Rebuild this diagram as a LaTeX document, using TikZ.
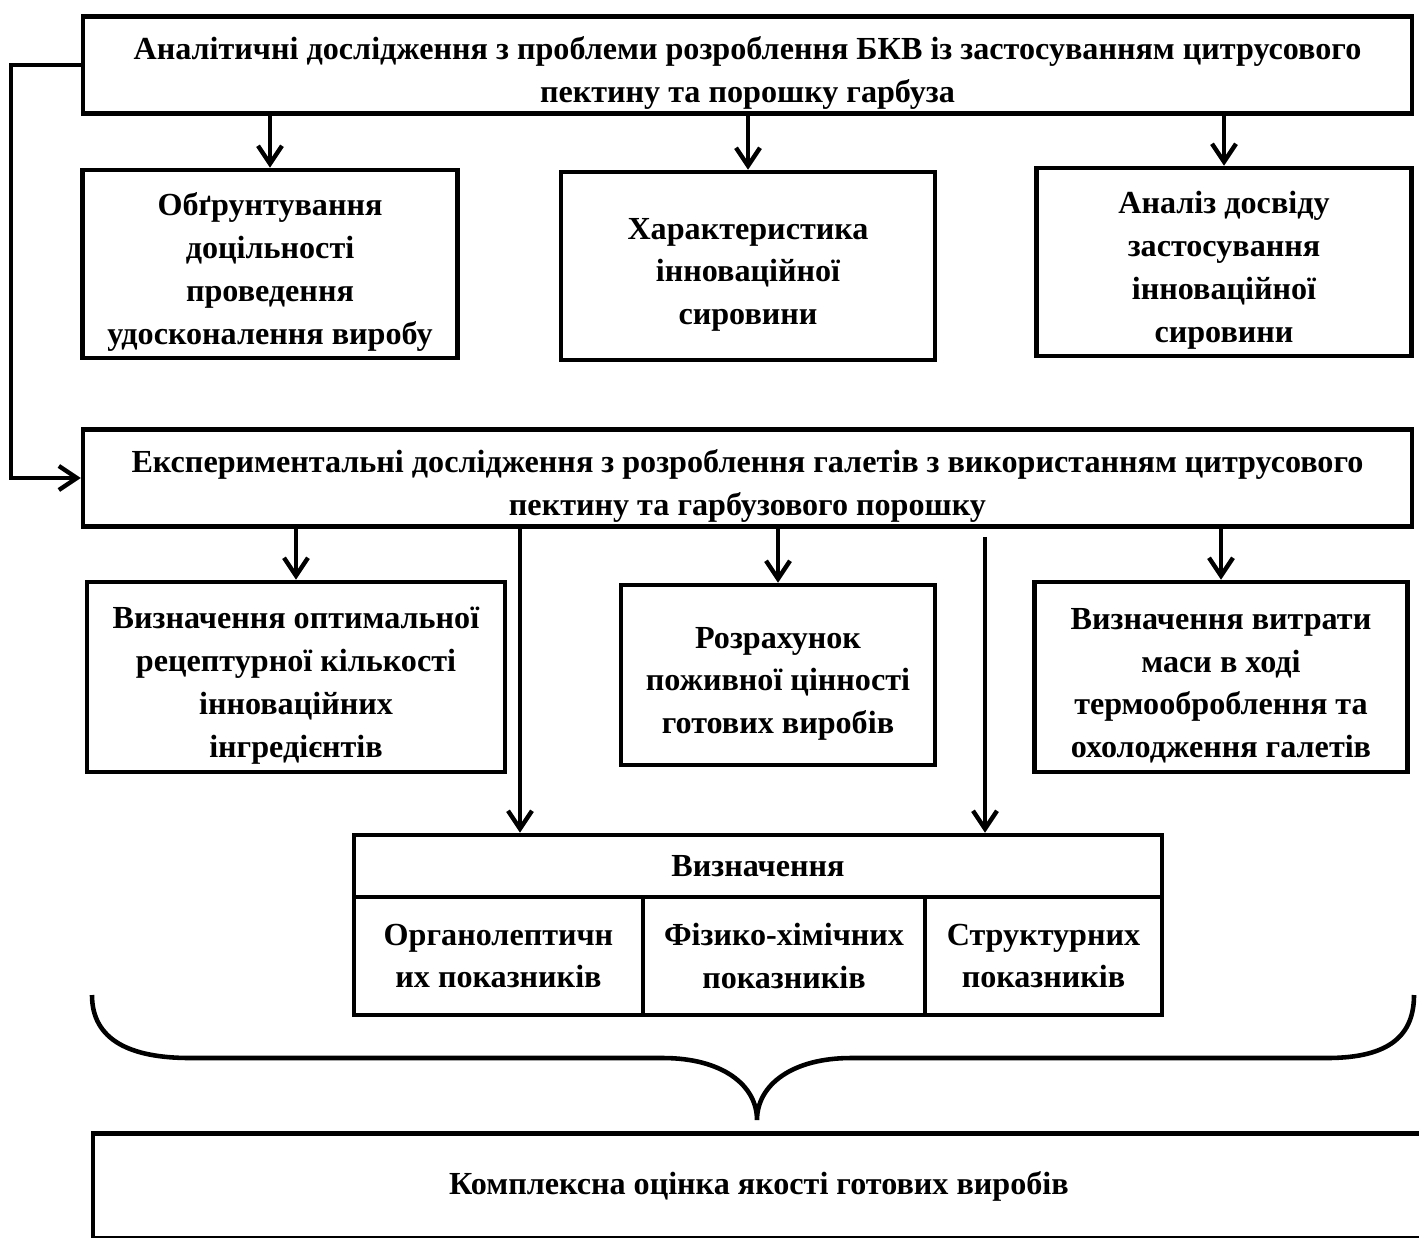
\documentclass[tikz,border=0pt]{standalone}
\usepackage{fontspec}
\setmainfont{Liberation Serif}
\usetikzlibrary{arrows.meta}
\tikzset{
    box/.style={draw, line width=2.6pt, fill=white, align=center, inner sep=2pt,
        font=\fontsize{18.3}{24.4}\selectfont\bfseries},
    lowbox/.style={box, align=flush center, text width=#1,
        execute at begin node={\rule{0pt}{22pt}}},
    arr/.style={line width=2.5pt, -{Straight Barb[length=3.6mm, width=4.8mm]}}
}
\begin{document}
\begin{tikzpicture}[x=0.02cm, y=-0.02cm]
    \clip (0,0) rectangle (1419,1237);

    % Analytic part
    % Nodes
    \node[lowbox=26cm, minimum width=26.58cm, minimum height=1.94cm] (anal) at (747.5,65)
        {Аналітичні дослідження з проблеми розроблення БКВ із застосуванням цитрусового\\
         пектину та порошку гарбуза};
    \node[lowbox=7.2cm, minimum width=7.5cm, minimum height=3.76cm] (obgr) at (270,264)
        {Обґрунтування\\доцільності\\проведення\\удосконалення виробу};
    \node[lowbox=7.2cm, minimum width=7.48cm, minimum height=3.76cm] (khar) at (748,266)
        {Характеристика\\інноваційної\\сировини};
    \node[lowbox=7.2cm, minimum width=7.5cm, minimum height=3.76cm] (dosv) at (1224,262)
        {Аналіз досвіду\\застосування\\інноваційної\\сировини};

    % Edges
    \foreach \b in {obgr, khar, dosv}
        \draw[arr] (\b.north |- anal.south) -- (\b.north);

    % Experimental part
    % Nodes
    \node[lowbox=26cm, minimum width=26.58cm, minimum height=1.94cm] (expe) at (747.5,478)
        {Експериментальні дослідження з розроблення галетів з використанням цитрусового\\
         пектину та гарбузового порошку};
    \node[lowbox=8cm, minimum width=8.36cm, minimum height=3.8cm] (opti) at (296,677)
        {Визначення оптимальної\\рецептурної кількості\\інноваційних\\інгредієнтів};
    \node[lowbox=6cm, minimum width=6.28cm, minimum height=3.6cm] (rozr) at (778,675)
        {Розрахунок\\поживної цінності\\готових виробів};
    \node[lowbox=7.2cm, minimum width=7.46cm, minimum height=3.8cm] (vytr) at (1221,677)
        {Визначення витрати\\маси в ході\\термооброблення та\\охолодження галетів};

    % Table
    \node[box, minimum width=16.16cm, minimum height=1.24cm] (vyzn) at (758,866) {Визначення};
    \node[box, minimum width=5.78cm, minimum height=2.36cm] (orga) at (498.5,956)
        {Органолептичн\\их показників};
    \node[box, minimum width=5.64cm, minimum height=2.36cm] (fizy) at (784,956)
        {Фізико-хімічних\\показників};
    \node[box, minimum width=4.74cm, minimum height=2.36cm] (stru) at (1043.5,956)
        {Структурних\\показників};

    % Edges
    \draw[arr] (anal.west) -- ++(-70,0) |- (expe.west);
    \foreach \b in {opti, rozr, vytr}
        \draw[arr] (\b.north |- expe.south) -- (\b.north);
    \draw[arr] (expe.south -| 520,0) -- (vyzn.north -| 520,0);
    \draw[arr, shorten <=0.16cm] (expe.south -| 985,0) -- (vyzn.north -| 985,0);

    % Brace and result
    \draw[line width=2.6pt] (92,995) .. controls (92,1040) and (130,1058) .. (190,1058)
        -- (663,1058) .. controls (722,1058) and (757,1085) .. (757,1120)
        .. controls (757,1085) and (792,1058) .. (851,1058)
        -- (1327,1058) .. controls (1390,1058) and (1414,1035) .. (1414,995);
    \node[box, minimum width=26.64cm, minimum height=2.1cm] (komp) at (759,1186)
        {Комплексна оцінка якості готових виробів};
\end{tikzpicture}
\end{document}
